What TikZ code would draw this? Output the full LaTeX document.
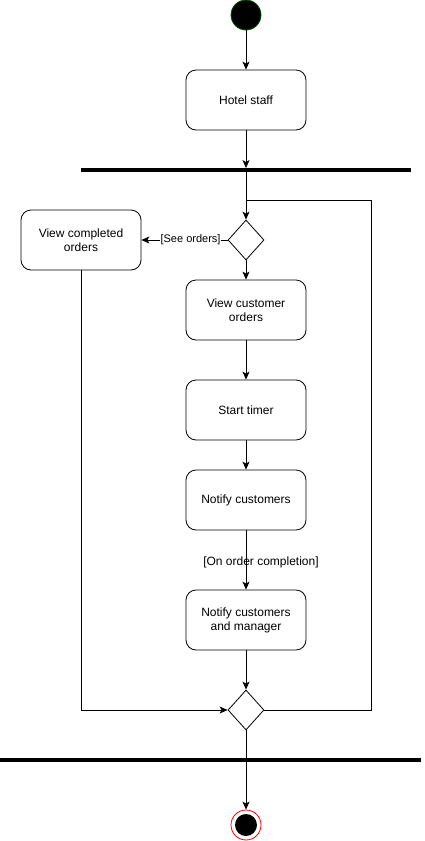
\documentclass[tikz,border=0pt]{standalone}
\usepackage{fontspec}
\setmainfont{Liberation Sans}
\usetikzlibrary{shapes.geometric,arrows.meta}
\definecolor{startgreen}{RGB}{0,87,0}
\begin{document}
\begin{tikzpicture}[x=1pt,y=-1pt,
  box/.style={draw,rectangle,rounded corners=10pt,minimum width=120pt,minimum height=60pt,align=center,inner sep=2pt,font=\fontsize{12}{14}\selectfont,line width=0.8pt},
  dec/.style={draw,diamond,minimum width=36pt,minimum height=40pt,inner sep=0pt,line width=0.8pt},
  bar/.style={fill=black,rectangle,minimum height=3.5pt,inner sep=0pt},
  arr/.style={-{Stealth[length=8pt,width=7pt,inset=2pt]},line width=0.8pt},
  ln/.style={line width=0.8pt},
  lbl/.style={font=\fontsize{11}{13}\selectfont,inner sep=1pt}]
\useasboundingbox (0,0) rectangle (424,841);
\node[circle,fill=black,draw=startgreen,minimum size=30pt,inner sep=0pt,line width=0.8pt] (start) at (246,15) {};
\node[box] (hotel) at (246,100) {Hotel staff};
\node[bar,minimum width=330pt] (bar1) at (246,170) {};
\node[dec] (dec1) at (246,240) {};
\node[box] (vco) at (81,240) {View completed\\orders};
\node[box] (vcust) at (246,310) {View customer\\orders};
\node[box] (timer) at (246,410) {Start timer};
\node[box] (notify) at (246,500) {Notify customers};
\node[box] (ncm) at (246,620) {Notify customers\\and manager};
\node[dec] (dec2) at (246,710) {};
\node[bar,minimum width=421pt] (bar2) at (210.5,760) {};
\node[circle,draw=red,fill=white,minimum size=30pt,inner sep=0pt,line width=0.8pt] (end) at (246,825) {};
\fill (end.center) circle (11pt);
\coordinate (lc) at (371,200);

\draw[arr] (start) -- (hotel);
\draw[arr] (hotel) -- (hotel |- bar1.north);
\draw[arr] (bar1.center) -- (dec1.north);
\draw[ln] (dec2.east) -| (lc) -- (lc -| dec1);
\draw[arr] (dec1.west) -- node[lbl,fill=white,pos=0.43] {[See orders]} (vco.east);
\draw[arr] (dec1.south) -- (vcust);
\draw[arr] (vcust) -- (timer);
\draw[arr] (timer) -- (notify);
\draw[arr] (notify) -- node[lbl,font=\fontsize{12}{14}\selectfont,xshift=15pt,yshift=-2pt] {[On order completion]} (ncm);
\draw[arr] (ncm) -- (dec2.north);
\draw[arr] (vco.south) |- (dec2.west);
\draw[arr] (dec2.south) -- (end.north);
\end{tikzpicture}
\end{document}
